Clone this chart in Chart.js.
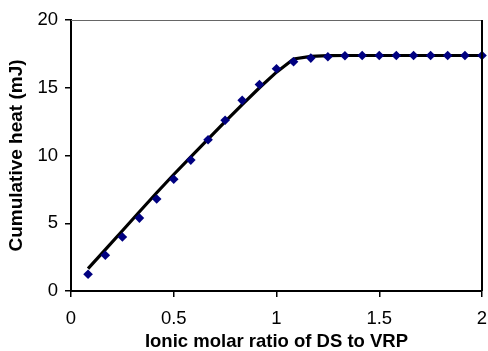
<!DOCTYPE html>
<html>
<head>
<meta charset="utf-8">
<script src="https://cdn.jsdelivr.net/npm/chart.js@4.4.1/dist/chart.umd.min.js"></script>
<style>
  html, body { margin: 0; padding: 0; background: #fff; }
  #wrap { width: 488px; height: 351px; }
</style>
</head>
<body>
<div id="wrap"><canvas id="heatChart" width="488" height="351"></canvas></div>
<script>
// molar ratio of injections (DS : VRP)
const ratios = [0.083, 0.167, 0.25, 0.333, 0.417, 0.5, 0.583, 0.667, 0.75, 0.833,
  0.917, 1.0, 1.083, 1.167, 1.25, 1.333, 1.417, 1.5, 1.583, 1.667, 1.75, 1.833, 1.917, 2.0];

// measured cumulative heat (mJ)
const heatMeasured = [1.24, 2.64, 3.98, 5.38, 6.79, 8.25, 9.66, 11.16, 12.6, 14.07,
  15.24, 16.4, 16.92, 17.19, 17.29, 17.36, 17.38, 17.38, 17.38, 17.38, 17.38, 17.38, 17.38, 17.38];

// fitted curve (mJ)
const heatFit = [1.65, 3.05, 4.45, 5.85, 7.25, 8.6, 9.9, 11.2, 12.5, 13.75,
  15.0, 16.15, 17.12, 17.32, 17.37, 17.38, 17.38, 17.38, 17.38, 17.38, 17.38, 17.38, 17.38, 17.38];

const xTicks = [0, 0.5, 1, 1.5, 2];
const yTicks = [0, 5, 10, 15, 20];

const toPoints = (ys) => ratios.map((x, i) => ({ x: x, y: ys[i] }));

// top and right frame of the plot area
const frame = {
  id: 'frame',
  afterDraw(chart) {
    const a = chart.chartArea;
    const c = chart.ctx;
    c.save();
    c.strokeStyle = '#666';
    c.lineWidth = 1;
    c.beginPath();
    c.moveTo(a.left, a.top + 0.5);
    c.lineTo(a.right, a.top + 0.5);
    c.stroke();
    c.strokeStyle = '#000';
    c.lineWidth = 2;
    c.beginPath();
    c.moveTo(a.right, a.top);
    c.lineTo(a.right, a.bottom);
    c.stroke();
    c.restore();
  }
};

Chart.defaults.font.family = '"Liberation Sans", Arial, sans-serif';
Chart.defaults.color = '#000';

new Chart(document.getElementById('heatChart'), {
  type: 'scatter',
  data: {
    datasets: [
      {
        label: 'measured',
        data: toPoints(heatMeasured),
        pointStyle: 'rectRot',
        pointRadius: 4.8,
        backgroundColor: '#000080',
        borderColor: '#000080',
        borderWidth: 0,
        showLine: false,
        clip: false,
        order: 0
      },
      {
        label: 'fit',
        data: toPoints(heatFit),
        showLine: true,
        borderColor: '#000',
        borderWidth: 3.2,
        pointRadius: 0,
        tension: 0,
        order: 1
      }
    ]
  },
  options: {
    responsive: false,
    animation: false,
    layout: { padding: { top: 20, right: 6, left: 0, bottom: 0 } },
    plugins: {
      legend: { display: false },
      tooltip: { enabled: false }
    },
    scales: {
      x: {
        type: 'linear',
        min: 0,
        max: 2,
        afterBuildTicks: (s) => { s.ticks = xTicks.map(v => ({ value: v })); },
        afterFit: (s) => { s.height = 60; s.paddingLeft = 0; s.paddingRight = 0; },
        border: { display: true, color: '#000', width: 2 },
        grid: { drawOnChartArea: false, drawTicks: true, tickLength: 6, color: '#000', lineWidth: 1.5 },
        ticks: { font: { size: 18.5 }, padding: 11, maxRotation: 0, callback: (v) => String(v) },
        title: {
          display: true,
          text: 'Ionic molar ratio of DS to VRP',
          font: { size: 18.5, weight: 'bold', lineHeight: 1.0 },
          padding: { top: 0, bottom: 0 }
        }
      },
      y: {
        min: 0,
        max: 20,
        afterBuildTicks: (s) => { s.ticks = yTicks.map(v => ({ value: v })); },
        afterFit: (s) => { s.width = 71; },
        border: { display: true, color: '#000', width: 2 },
        grid: { drawOnChartArea: false, drawTicks: true, tickLength: 6, color: '#000', lineWidth: 1.5 },
        ticks: { font: { size: 18.5 }, padding: 7, callback: (v) => String(v) },
        title: {
          display: true,
          text: 'Cumulative heat (mJ)',
          font: { size: 19, weight: 'bold', lineHeight: 1.0 },
          padding: { top: 7, bottom: 0 }
        }
      }
    }
  },
  plugins: [frame]
});
</script>
</body>
</html>
